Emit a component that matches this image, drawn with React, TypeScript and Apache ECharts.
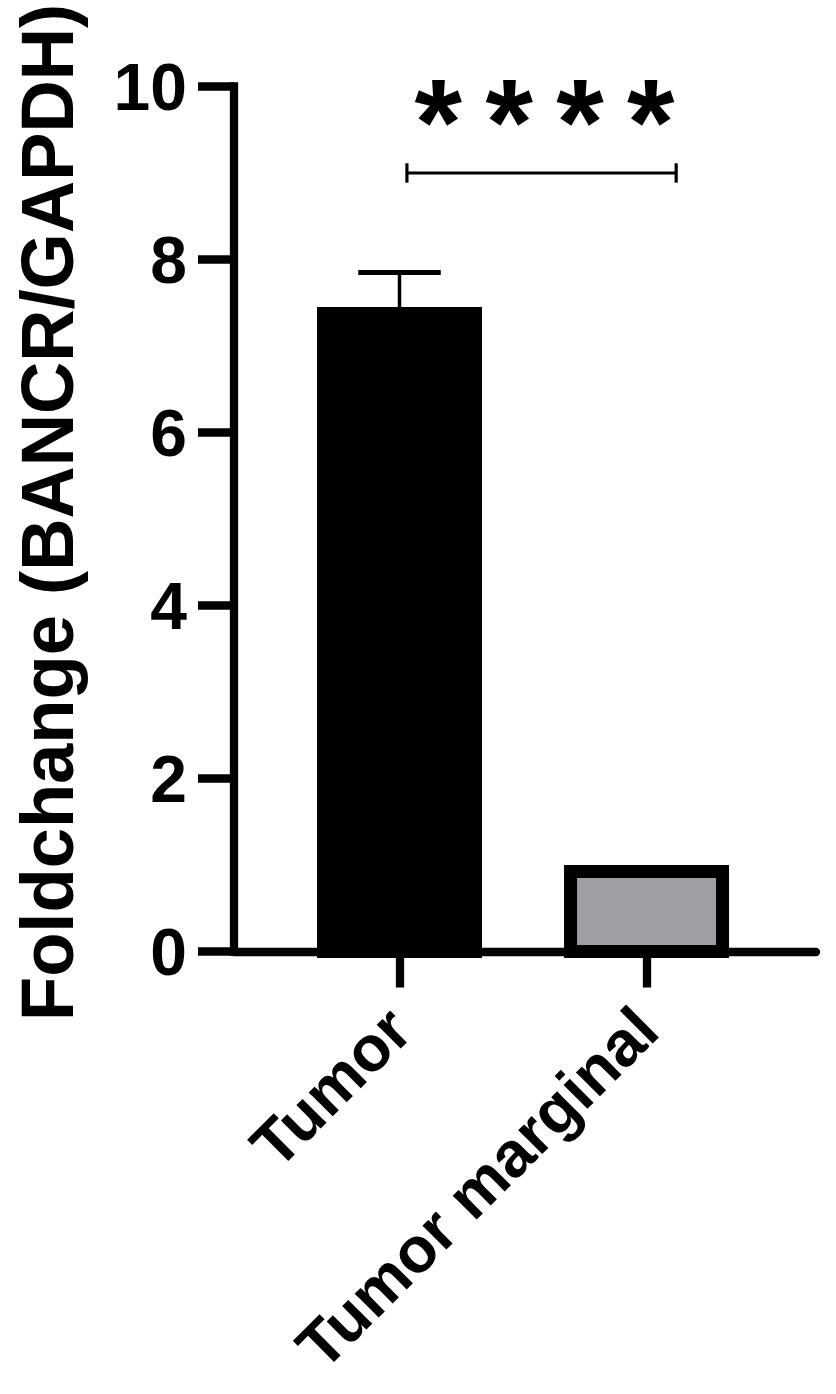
import React, { useEffect, useRef } from "react";
import * as echarts from "echarts";

// ---- data ----
const categories = ["Tumor", "Tumor marginal"];
const means = [7.45, 1.0];
const errorsUp = [0.4, 0];
const barColors = ["#000000", "#a0a0a4"];
const yAxisTitle = "Foldchange (BANCR/GAPDH)";
const sigSpan = [0.03, 1.12];
const sigLevel = 9.0;
const starsLevel = 9.59;
const starCount = 4;

const FONT = "'Liberation Sans', Arial, Helvetica, sans-serif";
const BAR_W = 0.668; // bar width in category units
const BORDER = 13;

export default function App() {
  const ref = useRef<HTMLDivElement>(null);
  useEffect(() => {
    if (!ref.current) return;
    const chart = echarts.init(ref.current, undefined, { renderer: "svg" });

    const barData = categories.map((c, i) => [i, means[i]]);
    const errData = categories.map((c, i) => [i, means[i], means[i] + errorsUp[i]]);
    const starText = Array.from({ length: starCount }, () => "{s|*}").join("{g| }");

    const option: any = {
      animation: false,
      backgroundColor: "#ffffff",
      grid: { left: 234, right: 20, top: 86.5, bottom: 442.5 },
      xAxis: {
        type: "value",
        min: -0.67,
        max: 1.686,
        splitLine: { show: false },
        axisLine: { show: true, onZero: false, lineStyle: { color: "#000", width: 8.3 } },
        axisTick: {
          show: true,
          customValues: [0, 1],
          length: 36,
          lineStyle: { color: "#000", width: 8.3 },
        },
        axisLabel: {
          show: true,
          customValues: [0, 1],
          formatter: (v: number) => categories[Math.round(v)] ?? "",
          rotate: 45,
          margin: 67,
          padding: [24, 0, 0, 0],
          color: "#000",
          fontSize: 64,
          fontWeight: "bold",
          fontFamily: FONT,
        },
      },
      yAxis: {
        type: "value",
        min: 0,
        max: 10,
        interval: 2,
        splitLine: { show: false },
        axisLine: { show: true, onZero: false, lineStyle: { color: "#000", width: 8.3, cap: "square" } },
        axisTick: { show: true, length: 36, lineStyle: { color: "#000", width: 8.5 } },
        axisLabel: {
          margin: 47,
          color: "#000",
          fontSize: 66,
          fontWeight: "bold",
          fontFamily: FONT,
        },
      },
      graphic: [
        {
          type: "text",
          x: 47,
          y: 512.5,
          rotation: Math.PI / 2,
          scaleX: 0.965,
          style: {
            text: yAxisTitle,
            fill: "#000",
            font: `bold 75px ${FONT}`,
            align: "center",
            verticalAlign: "middle",
            textAlign: "center",
            textVerticalAlign: "middle",
          },
        },
      ],
      series: [
        {
          type: "custom",
          name: "bars",
          data: barData,
          z: 2,
          renderItem: (params: any, api: any) => {
            const i = params.dataIndex;
            const x = api.value(0);
            const v = api.value(1);
            const top = api.coord([x, v]);
            const base = api.coord([x, 0]);
            const w = api.size([BAR_W, 0])[0];
            return {
              type: "rect",
              shape: {
                x: top[0] - w / 2 + BORDER / 2,
                y: top[1] + BORDER / 2,
                width: w - BORDER,
                height: base[1] - top[1] - BORDER / 2,
              },
              style: { fill: barColors[i], stroke: "#000", lineWidth: BORDER },
            };
          },
        },
        {
          type: "custom",
          name: "errors",
          data: errData,
          z: 3,
          renderItem: (params: any, api: any) => {
            const x = api.value(0);
            const lo = api.value(1);
            const hi = api.value(2);
            if (hi <= lo) return { type: "group", children: [] };
            const p0 = api.coord([x, lo]);
            const p1 = api.coord([x, hi]);
            const capW = api.size([BAR_W / 2, 0])[0];
            return {
              type: "group",
              children: [
                {
                  type: "line",
                  shape: { x1: p0[0], y1: p0[1], x2: p1[0], y2: p1[1] },
                  style: { stroke: "#000", lineWidth: 3.5 },
                },
                {
                  type: "line",
                  shape: { x1: p1[0] - capW / 2, y1: p1[1], x2: p1[0] + capW / 2, y2: p1[1] },
                  style: { stroke: "#000", lineWidth: 5 },
                },
              ],
            };
          },
        },
        {
          type: "custom",
          name: "significance",
          data: [[sigSpan[0], sigSpan[1], sigLevel, starsLevel]],
          z: 4,
          renderItem: (params: any, api: any) => {
            const a = api.coord([api.value(0), api.value(2)]);
            const b = api.coord([api.value(1), api.value(2)]);
            const s = api.coord([(api.value(0) + api.value(1)) / 2, api.value(3)]);
            const h = 9.7;
            return {
              type: "group",
              children: [
                {
                  type: "line",
                  shape: { x1: a[0], y1: a[1], x2: b[0], y2: b[1] },
                  style: { stroke: "#000", lineWidth: 3.2 },
                },
                {
                  type: "line",
                  shape: { x1: a[0], y1: a[1] - h, x2: a[0], y2: a[1] + h },
                  style: { stroke: "#000", lineWidth: 3.2 },
                },
                {
                  type: "line",
                  shape: { x1: b[0], y1: b[1] - h, x2: b[0], y2: b[1] + h },
                  style: { stroke: "#000", lineWidth: 3.2 },
                },
                {
                  type: "text",
                  x: s[0] + 3,
                  y: s[1],
                  style: {
                    text: starText,
                    fill: "#000",
                    align: "center",
                    verticalAlign: "middle",
                    rich: {
                      s: { fontSize: 122, fontWeight: "bold", fontFamily: FONT },
                      g: { fontSize: 84, fontWeight: "bold", fontFamily: FONT },
                    },
                  },
                },
              ],
            };
          },
        },
      ],
    };
    chart.setOption(option);
    return () => chart.dispose();
  }, []);
  return (
    <div
      ref={ref}
      style={{ position: "absolute", left: 0, top: 0, width: 836, height: 1394, background: "#fff" }}
    />
  );
}
